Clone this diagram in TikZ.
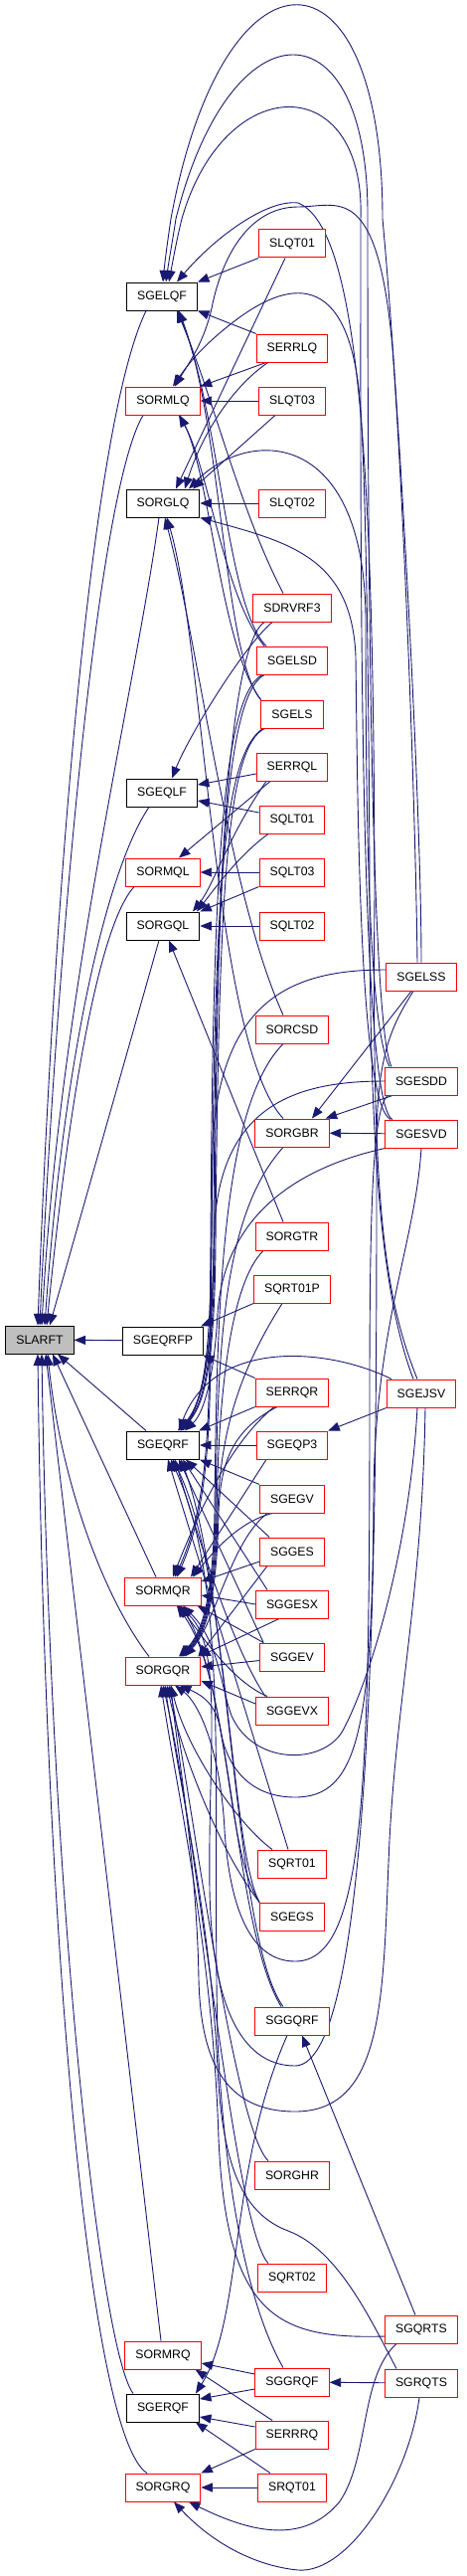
\documentclass[tikz,border=0pt]{standalone}
\usepackage{fontspec}
\newfontfamily\dxfont{Liberation Sans}
\usetikzlibrary{arrows.meta}
\definecolor{lnk}{RGB}{25,25,112}
\definecolor{hit}{RGB}{191,191,191}
\pgfdeclarelayer{background}
\pgfsetlayers{background,main}
\tikzset{
  fn/.style={draw=red, fill=white, line width=1pt, minimum height=28pt,
    inner xsep=10.5pt, inner ysep=0pt, font=\dxfont\fontsize{12.3}{14}\selectfont},
  fnb/.style={fn, draw=black},
  call/.style={draw=lnk, line width=0.9pt, -{Triangle[length=11.5pt,width=9pt]}},
}
\begin{document}
\begin{tikzpicture}[x=1pt, y=-1pt]
  \useasboundingbox (0,0) rectangle (469,2590);
  % the function itself
  \node[fnb, fill=hit] (slarft) at (40,1347) {SLARFT};
  % direct callers
  \node[fnb] (sgelqf) at (163,298) {SGELQF};
  \node[fn] (sormlq) at (164,403) {SORMLQ};
  \node[fnb] (sorglq) at (164,506) {SORGLQ};
  \node[fnb] (sgeqlf) at (163,797) {SGEQLF};
  \node[fn] (sormql) at (164,877) {SORMQL};
  \node[fnb] (sorgql) at (164,931) {SORGQL};
  \node[fnb] (sgeqrfp) at (164,1348) {SGEQRFP};
  \node[fnb] (sgeqrf) at (164,1453) {SGEQRF};
  \node[fn] (sormqr) at (164,1600) {SORMQR};
  \node[fn] (sorgqr) at (164,1680) {SORGQR};
  \node[fn] (sormrq) at (164,2368) {SORMRQ};
  \node[fnb] (sgerqf) at (164,2421) {SGERQF};
  \node[fn] (sorgrq) at (164,2501) {SORGRQ};
  % second level
  \node[fn] (slqt01) at (294,245) {SLQT01};
  \node[fn] (serrlq) at (294,350) {SERRLQ};
  \node[fn] (slqt03) at (294,403) {SLQT03};
  \node[fn] (slqt02) at (294,506) {SLQT02};
  \node[fn] (sdrvrf3) at (294,611) {SDRVRF3};
  \node[fn] (sgelsd) at (294,664) {SGELSD};
  \node[fn] (sgels) at (294,718) {SGELS};
  \node[fn] (serrql) at (294,771) {SERRQL};
  \node[fn] (sqlt01) at (294,824) {SQLT01};
  \node[fn] (sqlt03) at (294,877) {SQLT03};
  \node[fn] (sqlt02) at (294,931) {SQLT02};
  \node[fn] (sorcsd) at (294,1035) {SORCSD};
  \node[fn] (sorgbr) at (294,1139) {SORGBR};
  \node[fn] (sorgtr) at (294,1243) {SORGTR};
  \node[fn] (sqrt01p) at (294,1296) {SQRT01P};
  \node[fn] (serrqr) at (294,1400) {SERRQR};
  \node[fn] (sgeqp3) at (294,1453) {SGEQP3};
  \node[fn] (sgegv) at (294,1507) {SGEGV};
  \node[fn] (sgges) at (294,1560) {SGGES};
  \node[fn] (sggesx) at (294,1613) {SGGESX};
  \node[fn] (sggev) at (294,1666) {SGGEV};
  \node[fn] (sggevx) at (294,1720) {SGGEVX};
  \node[fn] (sqrt01) at (294,1874) {SQRT01};
  \node[fn] (sgegs) at (294,1927) {SGEGS};
  \node[fn] (sggqrf) at (294,2032) {SGGQRF};
  \node[fn] (sorghr) at (294,2187) {SORGHR};
  \node[fn] (sqrt02) at (294,2290) {SQRT02};
  \node[fn] (sggrqf) at (294,2395) {SGGRQF};
  \node[fn] (serrrq) at (294,2448) {SERRRQ};
  \node[fn] (srqt01) at (294,2501) {SRQT01};
  % third level
  \node[fn] (sgelss) at (424,982) {SGELSS};
  \node[fn] (sgesdd) at (424,1087) {SGESDD};
  \node[fn] (sgesvd) at (424,1140) {SGESVD};
  \node[fn] (sgejsv) at (424,1401) {SGEJSV};
  \node[fn] (sgqrts) at (424,2342) {SGQRTS};
  \node[fn] (sgrqts) at (424,2396) {SGRQTS};

  \begin{pgfonlayer}{background}
  % into SLARFT
  \draw[call] ([xshift=-16pt]sgelqf.south) .. controls (85,440) and (50,1000) .. ([xshift=-2pt]slarft.north);
  \draw[call] ([xshift=-20pt]sormlq.south) .. controls (95,500) and (55,1000) .. ([xshift=0pt]slarft.north);
  \draw[call] ([xshift=-4pt]sorglq.south) .. controls (135,700) and (60,1000) .. ([xshift=2pt]slarft.north);
  \draw[call] ([xshift=-13pt]sgeqlf.south) .. controls (110,870) and (65,1050) .. ([xshift=5pt]slarft.north);
  \draw[call] ([xshift=-29pt]sormql.south) .. controls (100,930) and (70,1100) .. ([xshift=7pt]slarft.north);
  \draw[call] ([xshift=-4pt]sorgql.south) -- ([xshift=10pt]slarft.north);
  \draw[call] (sgeqrfp) -- (slarft);
  \draw[call] ([xshift=-17pt]sgeqrf.north) -- ([xshift=18pt]slarft.south);
  \draw[call] ([xshift=-7pt]sormqr.north) -- ([xshift=13pt]slarft.south);
  \draw[call] ([xshift=-14pt]sorgqr.north) .. controls (100,1600) and (60,1480) .. ([xshift=8pt]slarft.south);
  \draw[call] ([xshift=-2pt]sormrq.north) -- ([xshift=6pt]slarft.south);
  \draw[call] ([xshift=-30pt]sgerqf.north) .. controls (100,2360) and (50,1900) .. ([xshift=2pt]slarft.south);
  \draw[call] ([xshift=-16pt]sorgrq.north) .. controls (90,2450) and (45,1950) .. ([xshift=-2pt]slarft.south);

  % LQ family
  \draw[call] (slqt01.south west) -- (sgelqf.north east);
  \draw[call] ([xshift=-7pt]slqt01.south) -- ([xshift=13pt]sorglq.north);
  \draw[call] (serrlq.north west) -- (sgelqf.south east);
  \draw[call] ([xshift=10pt]serrlq.south west) -- (sormlq.north east);
  \draw[call] ([xshift=12pt]serrlq.south west) .. controls (232,390) and (202,440) .. ([xshift=22pt]sorglq.north);
  \draw[call] (slqt03) -- (sormlq);
  \draw[call] ([xshift=-17pt]slqt03.south) -- ([xshift=30pt]sorglq.north);
  \draw[call] (slqt02) -- (sorglq);
  \draw[call] ([xshift=-9pt]sdrvrf3.north) .. controls (240,510) and (215,400) .. ([xshift=15pt]sgelqf.south);
  \draw[call] ([xshift=-26pt]sgelsd.north) .. controls (228,610) and (222,420) .. ([xshift=16pt]sgelqf.south);
  \draw[call] (sgels.north west) .. controls (225,660) and (224,430) .. ([xshift=17pt]sgelqf.south);
  \draw[call] ([xshift=-28pt]sgelsd.north) .. controls (225,600) and (210,470) .. ([xshift=16pt]sormlq.south);
  \draw[call] (sgels.north west) .. controls (222,650) and (212,480) .. ([xshift=17pt]sormlq.south);

  % QL family
  \draw[call] ([yshift=-7pt]serrql.west) -- ([yshift=8pt]sgeqlf.east);
  \draw[call] ([xshift=-22pt]serrql.south) -- ([xshift=16pt]sormql.north);
  \draw[call] ([xshift=-26pt]serrql.south) .. controls (230,840) and (215,890) .. ([xshift=30pt]sorgql.north);
  \draw[call] ([yshift=7pt]sqlt01.west) -- ([yshift=-8pt]sgeqlf.east);
  \draw[call] ([xshift=-24pt]sqlt01.south) .. controls (240,860) and (215,895) .. ([xshift=34pt]sorgql.north);
  \draw[call] (sqlt03) -- (sormql);
  \draw[call] (sqlt03.south west) -- (sorgql.north east);
  \draw[call] (sqlt02) -- (sorgql);
  \draw[call] ([xshift=-20pt]sdrvrf3.south) .. controls (245,650) and (190,740) .. ([xshift=10pt]sgeqlf.north);
  \draw[call] ([xshift=-9pt]sorgtr.north) -- ([xshift=6pt]sorgql.south);

  % SORCSD, SORGBR
  \draw[call] ([xshift=-9pt]sorcsd.north) .. controls (230,900) and (200,650) .. ([xshift=2pt]sorglq.south);
  \draw[call] ([xshift=-9pt]sorgbr.north) .. controls (215,1050) and (206,650) .. ([xshift=4pt]sorglq.south);
  \draw[call] ([xshift=-9pt]sorcsd.south) .. controls (225,1110) and (218,1300) .. (216,1520) .. controls (214,1620) and (200,1645) .. ([xshift=16pt]sorgqr.north);
  \draw[call] ([xshift=-9pt]sorgbr.south) .. controls (225,1220) and (219,1350) .. (217,1520) .. controls (215,1620) and (201,1645) .. ([xshift=17pt]sorgqr.north);
  \draw[call] ([xshift=-10pt]sgelss.south) -- ([xshift=20pt]sorgbr.north);
  \draw[call] ([xshift=-29pt]sgesdd.south) -- ([xshift=-4pt]sorgbr.north east);
  \draw[call] (sgesvd) -- (sorgbr);
  \draw[call] ([xshift=-29pt]sorgtr.south) .. controls (232,1290) and (220,1400) .. (218,1520) .. controls (216,1620) and (202,1645) .. ([xshift=18pt]sorgqr.north);

  % QR family, from above
  \draw[call] ([xshift=-28pt]sdrvrf3.south) .. controls (230,650) and (216,900) .. (215,1250) .. controls (214,1385) and (200,1415) .. ([xshift=15pt]sgeqrf.north);
  \draw[call] ([xshift=8pt]sgelsd.south west) .. controls (225,700) and (218,900) .. (216,1250) .. controls (215,1385) and (202,1415) .. ([xshift=17pt]sgeqrf.north);
  \draw[call] ([xshift=4pt]sgels.south west) .. controls (228,750) and (220,900) .. (217,1250) .. controls (216,1385) and (203,1415) .. ([xshift=18pt]sgeqrf.north);
  \draw[call] ([xshift=6pt]sgelsd.south west) .. controls (222,700) and (214,900) .. (212,1250) .. controls (210,1400) and (215,1500) .. ([xshift=12pt]sormqr.north);
  \draw[call] ([xshift=2pt]sgels.south west) .. controls (224,760) and (216,900) .. (213,1250) .. controls (211,1400) and (216,1500) .. ([xshift=14pt]sormqr.north);
  \draw[call] ([yshift=7pt]sgelss.west) .. controls (300,975) and (222,1000) .. (214,1150) .. controls (212,1300) and (214,1390) .. ([xshift=20pt]sgeqrf.north);
  \draw[call] (sgesdd.west) .. controls (300,1087) and (224,1110) .. (216,1230) .. controls (213,1320) and (212,1395) .. ([xshift=18pt]sgeqrf.north);
  \draw[call] (sgesvd.south west) .. controls (295,1175) and (226,1225) .. (219,1320) .. controls (216,1380) and (206,1420) .. ([xshift=22pt]sgeqrf.north);

  % QR family, second level
  \draw[call] (sqrt01p.south west) -- ([xshift=-3pt]sgeqrfp.north east);
  \draw[call] ([xshift=-10pt]sqrt01p.south) .. controls (240,1380) and (222,1440) .. (219,1520) .. controls (217,1620) and (203,1645) .. ([xshift=19pt]sorgqr.north);
  \draw[call] (serrqr.north west) -- ([xshift=-1pt]sgeqrfp.south east);
  \draw[call] (serrqr.south west) -- ([xshift=-1pt]sgeqrf.north east);
  \draw[call] ([xshift=-18pt]serrqr.south) .. controls (232,1450) and (200,1520) .. ([xshift=10pt]sormqr.north);
  \draw[call] ([xshift=-15pt]serrqr.south) .. controls (228,1440) and (222,1480) .. (220,1520) .. controls (218,1620) and (204,1645) .. ([xshift=20pt]sorgqr.north);
  \draw[call] (sgeqp3) -- (sgeqrf);
  \draw[call] ([xshift=-26pt]sgeqp3.south) -- ([xshift=28pt]sormqr.north);
  \draw[call] (sgejsv.south west) -- (sgeqp3.north east);
  \draw[call] ([xshift=-30pt]sgejsv.north) .. controls (330,1355) and (215,1345) .. ([xshift=16pt]sgeqrf.north);
  \draw[call] (sgegv.north west) -- (sgeqrf.south east);
  \draw[call] ([xshift=-20pt]sgegv.south) .. controls (240,1530) and (215,1560) .. ([xshift=30pt]sormqr.north);
  \draw[call] ([xshift=-25pt]sgegv.south) .. controls (232,1550) and (218,1630) .. ([xshift=22pt]sorgqr.north);
  \draw[call] ([xshift=10pt]sgges.north west) -- ([xshift=23pt]sgeqrf.south);
  \draw[call] ([yshift=-10pt]sgges.west) -- ([yshift=10pt]sormqr.east);
  \draw[call] ([xshift=-25pt]sgges.south) -- ([xshift=-3pt]sorgqr.north east);
  \draw[call] ([xshift=12pt]sggesx.north west) -- ([xshift=20pt]sgeqrf.south);
  \draw[call] (sggesx.west) -- ([yshift=-4pt]sormqr.east);
  \draw[call] ([xshift=-13pt]sggesx.south) -- ([xshift=-2pt]sorgqr.north east);
  \draw[call] ([xshift=4pt]sggev.north west) -- ([xshift=16pt]sgeqrf.south);
  \draw[call] ([xshift=4pt]sggev.north west) -- ([xshift=-4pt]sormqr.south east);
  \draw[call] (sggev) -- (sorgqr);
  \draw[call] ([xshift=-27pt]sggevx.north) .. controls (230,1650) and (192,1520) .. ([xshift=12pt]sgeqrf.south);
  \draw[call] ([xshift=-25pt]sggevx.north) .. controls (232,1690) and (200,1640) .. ([xshift=16pt]sormqr.south);
  \draw[call] ([yshift=7pt]sggevx.west) -- ([yshift=-10pt]sorgqr.east);
  \draw[call] ([xshift=-4pt]sqrt01.north) -- ([xshift=5pt]sgeqrf.south);
  \draw[call] ([xshift=-20pt]sqrt01.north) .. controls (240,1835) and (188,1760) .. ([xshift=8pt]sorgqr.south);
  \draw[call] (sgegs.north west) .. controls (220,1860) and (182,1760) .. ([xshift=4pt]sorgqr.south);
  \draw[call] (sgegs.north west) .. controls (226,1860) and (232,1690) .. ([xshift=14pt]sormqr.south);
  \draw[call] (sgegs.north west) .. controls (232,1860) and (230,1580) .. ([xshift=10pt]sgeqrf.south);
  \draw[call] ([xshift=-9pt]sggqrf.north) .. controls (235,1950) and (232,1600) .. ([xshift=18pt]sgeqrf.south);
  \draw[call] ([xshift=-11pt]sggqrf.north) .. controls (236,1940) and (234,1700) .. ([xshift=18pt]sormqr.south);
  \draw[call] ([xshift=-5pt]sggqrf.south) .. controls (230,2180) and (245,2330) .. ([xshift=-4pt]sgerqf.north east);
  \draw[call] ([xshift=-24pt]sorghr.north) .. controls (235,2140) and (192,1800) .. ([xshift=6pt]sorgqr.south);
  \draw[call] ([xshift=-24pt]sqrt02.north) .. controls (236,2240) and (200,1850) .. (sorgqr.south);

  % RQ family
  \draw[call] ([yshift=-7pt]sggrqf.west) -- ([yshift=9pt]sgerqf.east);
  \draw[call] ([yshift=8pt]sggrqf.west) -- ([yshift=-8pt]sormrq.east);
  \draw[call] ([xshift=-9pt]sggrqf.north) .. controls (250,2320) and (226,2200) .. (219,2050) .. controls (213,1800) and (232,1600) .. ([xshift=8pt]sgeqrf.south);
  \draw[call] ([xshift=-20pt]serrrq.north) -- ([xshift=-6pt]sormrq.south east);
  \draw[call] ([yshift=8pt]serrrq.west) -- ([yshift=-9pt]sgerqf.east);
  \draw[call] (serrrq.south west) -- (sorgrq.north east);
  \draw[call] ([xshift=-22pt]srqt01.north) -- ([xshift=-4pt]sgerqf.south east);
  \draw[call] (srqt01) -- (sorgrq);

  % SGQRTS, SGRQTS
  \draw[call] ([xshift=-6pt]sgqrts.north) -- ([xshift=10pt]sggqrf.south);
  \draw[call] ([yshift=-7pt]sgqrts.west) .. controls (280,2352) and (228,2330) .. (220,2150) .. controls (214,1960) and (178,1800) .. ([xshift=-2pt]sorgqr.south);
  \draw[call] ([xshift=-25pt]sgqrts.south) .. controls (362,2390) and (372,2470) .. (342,2515) .. controls (305,2560) and (250,2545) .. ([xshift=26pt]sorgrq.south);
  \draw[call] (sgrqts) -- (sggrqf);
  \draw[call] ([xshift=-25pt]sgrqts.north) .. controls (372,2330) and (340,2262) .. (290,2243) .. controls (245,2226) and (224,2180) .. (219,2080) .. controls (212,1930) and (180,1790) .. ([xshift=2pt]sorgqr.south);
  \draw[call] ([xshift=-2pt]sgrqts.south) .. controls (412,2490) and (352,2588) .. (300,2584) .. controls (258,2580) and (215,2558) .. ([xshift=11pt]sorgrq.south);

  % long arcs over the top
  \draw[call] (sgelss.north) .. controls (424,800) and (400,380) .. (385,220) .. controls (385,-67) and (225,-67) .. (172,220) .. controls (169,240) and (166,262) .. ([xshift=1pt]sgelqf.north);
  \draw[call] ([xshift=-30pt]sgesdd.north) .. controls (372,1030) and (370,500) .. (370,220) .. controls (372,0) and (232,0) .. (177,220) .. controls (174,240) and (170,262) .. ([xshift=4pt]sgelqf.north);
  \draw[call] ([xshift=-29pt]sgesvd.north) .. controls (360,1110) and (363,500) .. (363,220) .. controls (368,70) and (226,70) .. (183,220) .. controls (178,240) and (174,262) .. ([xshift=7pt]sgelqf.north);
  \draw[call] ([xshift=-4pt]sgejsv.north) .. controls (385,1300) and (374,1200) .. (377,900) .. controls (376,500) and (365,230) .. (300,204) .. controls (268,200) and (215,240) .. ([xshift=15pt]sgelqf.north);
  \draw[call] ([xshift=-8pt]sgejsv.north) .. controls (383,1300) and (372,1150) .. (372,900) .. controls (371,600) and (366,440) .. (362,400) .. controls (350,270) and (290,280) .. (232,326) .. controls (205,347) and (190,365) .. ([xshift=10pt]sormlq.north);
  \draw[call] ([xshift=-4pt]sgelss.north) .. controls (418,800) and (406,500) .. (395,350) .. controls (380,180) and (340,208) .. (300,208) .. controls (255,208) and (225,250) .. (213,310) .. controls (205,345) and (190,365) .. ([xshift=12pt]sormlq.north);
  \draw[call] ([xshift=-32pt]sgesdd.north) .. controls (370,1030) and (368,800) .. (368,620) .. controls (366,430) and (250,430) .. ([xshift=26pt]sorglq.north);
  \draw[call] ([xshift=-31pt]sgesvd.north) .. controls (362,1110) and (360,820) .. (358,660) .. controls (354,560) and (290,545) .. (sorglq.south east);

  % long arcs under the QR block
  \draw[call] ([xshift=-4pt]sgejsv.south) .. controls (412,1560) and (372,1690) .. (345,1740) .. controls (325,1775) and (255,1775) .. (233,1725) .. controls (222,1695) and (220,1650) .. ([xshift=20pt]sormqr.south);
  \draw[call] (sgesvd.south) .. controls (418,1250) and (378,1330) .. (376,1500) .. controls (375,1740) and (360,1807) .. (297,1807) .. controls (250,1807) and (228,1775) .. (222,1740) .. controls (218,1715) and (205,1705) .. ([xshift=17pt]sorgqr.south);
  \draw[call] ([xshift=-34pt]sgesdd.south) .. controls (376,1115) and (372,1200) .. (372,1400) .. controls (372,1800) and (368,1972) .. (297,1972) .. controls (245,1972) and (230,1900) .. (226,1840) .. controls (222,1760) and (200,1712) .. ([xshift=12pt]sorgqr.south);
  \draw[call] ([xshift=-8pt]sgelss.south) .. controls (395,1030) and (379,1060) .. (379,1150) .. controls (379,1500) and (380,2077) .. (297,2077) .. controls (240,2077) and (213,2010) .. (211,1900) .. controls (209,1760) and (226,1650) .. ([xshift=14pt]sormqr.south);
  \draw[call] ([xshift=4pt]sgejsv.south) .. controls (425,1600) and (400,1700) .. (392,1850) .. controls (385,2000) and (390,2123) .. (297,2123) .. controls (225,2123) and (202,2070) .. (200,1990) .. controls (198,1870) and (178,1760) .. ([xshift=8pt]sorgqr.south);
  \end{pgfonlayer}
\end{tikzpicture}
\end{document}
